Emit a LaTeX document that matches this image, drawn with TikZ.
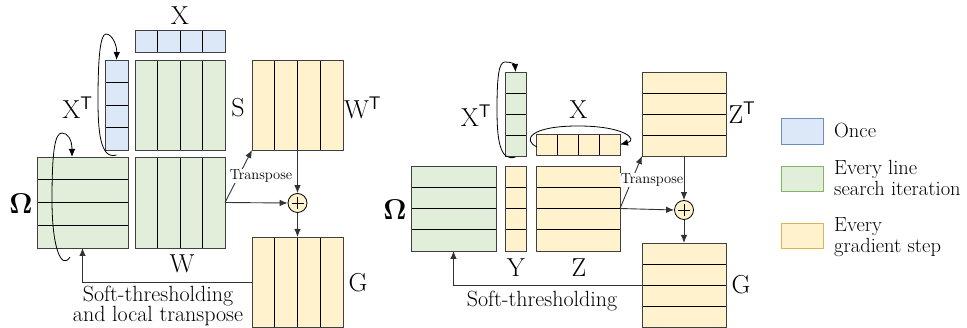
\documentclass[tikz,border=0pt]{standalone}
\usepackage[no-math]{fontspec}
\usepackage{graphicx}
\usetikzlibrary{arrows.meta,calc}
\definecolor{bfill}{HTML}{DCE8F8}
\definecolor{bdraw}{HTML}{6C8EBF}
\definecolor{gfill}{HTML}{E1EFDA}
\definecolor{gdraw}{HTML}{82B366}
\definecolor{yfill}{HTML}{FFF2CC}
\definecolor{ydraw}{HTML}{D6B656}
\definecolor{mborder}{HTML}{404040}
\definecolor{connc}{HTML}{333333}
\newcommand{\supT}{\textsuperscript{\sffamily T}}
\newcommand{\bigOm}{\scalebox{1.15}{$\mathbf{\Omega}$}}
\tikzset{
  mat/.style={draw=mborder, line width=0.9pt, inner sep=0pt, outer sep=0pt},
  bmat/.style={mat, fill=bfill},
  gmat/.style={mat, fill=gfill},
  ymat/.style={mat, fill=yfill},
  cols/.style={path picture={\foreach \t in {0.25,0.5,0.75}{\draw[black,line width=0.8pt] ($(path picture bounding box.north west)!\t!(path picture bounding box.north east)$) -- ($(path picture bounding box.south west)!\t!(path picture bounding box.south east)$);}}},
  rows/.style={path picture={\foreach \t in {0.25,0.5,0.75}{\draw[black,line width=0.8pt] ($(path picture bounding box.north west)!\t!(path picture bounding box.south west)$) -- ($(path picture bounding box.north east)!\t!(path picture bounding box.south east)$);}}},
  lab/.style={font=\fontsize{26}{28}\selectfont, inner sep=0pt},
  tlab/.style={font=\fontsize{14.5}{15}\selectfont, fill=white, inner sep=1pt},
  slab/.style={font=\fontsize{22}{20}\selectfont, align=center, inner sep=0pt},
  leglab/.style={font=\fontsize{20.5}{21}\selectfont, align=left, anchor=west, inner sep=0pt},
  arr/.style={draw=connc, line width=0.9pt, -{Latex[length=8pt,width=6.5pt]}},
  loop/.style={draw=black, line width=0.8pt, -{Latex[length=8pt,width=6.5pt]}},
  plus/.style={circle, draw=black, fill=yfill, minimum size=19pt, inner sep=0pt, line width=0.8pt,
    path picture={\draw[line width=0.7pt] ($(path picture bounding box.center)+(-6,0)$) -- ($(path picture bounding box.center)+(6,0)$);
                  \draw[line width=0.7pt] ($(path picture bounding box.center)+(0,-6)$) -- ($(path picture bounding box.center)+(0,6)$);}},
  legbox/.style={line width=0.9pt, minimum width=42pt, minimum height=25pt, inner sep=0pt}
}
\begin{document}
\begin{tikzpicture}[x=1pt,y=-1pt]
\useasboundingbox (0,0) rectangle (967,328);

% ---------- left diagram ----------
\node[bmat,cols,minimum width=90pt,minimum height=22pt] (X) at (180,41) {};
\node[bmat,rows,minimum width=23pt,minimum height=90pt] (XT) at (116.5,105) {};
\node[gmat,cols,minimum width=90pt,minimum height=90pt] (S) at (180,105) {};
\node[ymat,cols,minimum width=91pt,minimum height=90pt] (WT) at (297.5,105) {};
\node[gmat,rows,minimum width=91pt,minimum height=91pt] (Om) at (82.5,202.5) {};
\node[gmat,cols,minimum width=90pt,minimum height=91pt] (W) at (180,202.5) {};
\node[ymat,cols,minimum width=91pt,minimum height=90.5pt] (G) at (297.5,282.25) {};
\node[plus] (P) at (297.5,203) {};

\node[lab] (lX) at (180,16) {X};
\node[lab] (lXT) at (77.5,108) {X\supT};
\node[lab] (lS) at (238,108) {S};
\node[lab] (lWT) at (362.5,108) {W\supT};
\node[lab] (lOm) at (21,204) {\bigOm};
\node[lab] (lW) at (182,264) {W};
\node[lab] (lG) at (358,283) {G};

\draw[arr] (WT.south) -- (P.north);
\draw[arr] (W.east) -- (P.west);
\draw[arr] (P.south) -- (G.north);
\draw[arr] (W.east) -- (WT.south west);
\node[tlab] (t1) at (261,176) {Transpose};
\draw[arr] (G.west) -| (Om.south);
\node[slab] (s1) at (158,306) {Soft-thresholding\\and local transpose};

\draw[loop] ([yshift=-5pt]XT.south) .. controls (100,160) and (98,130) .. (98,100)
  .. controls (98,60) and (100,34) .. (106,34) .. controls (112,34) and (117,45) .. (XT.north);
\draw[loop] (70,257) .. controls (62,270) and (52,250) .. (52,200)
  .. controls (52,150) and (55,133) .. (62,133) .. controls (68,133) and (72,140) .. (72,157);

% ---------- right diagram ----------
\node[gmat,rows,minimum width=21pt,minimum height=84pt] (XT2) at (515.5,114) {};
\node[ymat,cols,minimum width=84pt,minimum height=21pt] (X2) at (578,144.5) {};
\node[ymat,rows,minimum width=84pt,minimum height=84pt] (ZT) at (684,114) {};
\node[gmat,rows,minimum width=85pt,minimum height=85pt] (Om2) at (453.5,208.5) {};
\node[ymat,rows,minimum width=21pt,minimum height=85pt] (Y) at (515.5,208.5) {};
\node[ymat,rows,minimum width=84pt,minimum height=85pt] (Z) at (578,208.5) {};
\node[ymat,rows,minimum width=84pt,minimum height=84pt] (G2) at (684,285) {};
\node[plus] (P2) at (684,210) {};

\node[lab] (lXT2) at (476,116) {X\supT};
\node[lab] (lX2) at (578.5,110) {X};
\node[lab] (lZT) at (742,113) {Z\supT};
\node[lab] (lOm2) at (395,210) {\bigOm};
\node[lab] (lY) at (516,268) {Y};
\node[lab] (lZ) at (579,268) {Z};
\node[lab] (lG2) at (741,285) {G};

\draw[arr] (ZT.south) -- (P2.north);
\draw[arr] (Z.east) -- (P2.west);
\draw[arr] (P2.south) -- (G2.north);
\draw[arr] (Z.east) -- (ZT.south west);
\node[tlab] (t2) at (652,180) {Transpose};
\draw[arr] (G2.west) -| (Om2.south);
\node[slab] (s2) at (542,301) {Soft-thresholding};

\draw[loop] ([yshift=-1pt]XT2.south) .. controls (500,162) and (497,140) .. (497,110)
  .. controls (497,75) and (499,62) .. (505,62) .. controls (511,62) and (515,64) .. (XT2.north);
\draw[loop] (537,147) .. controls (522,140) and (530,126) .. (578,126)
  .. controls (626,126) and (638,140) .. (X2.east);

% ---------- legend ----------
\node[legbox,draw=bdraw,fill=bfill,minimum height=26pt] (L1) at (802,131) {};
\node[legbox,draw=gdraw,fill=gfill] (L2) at (802,178.5) {};
\node[legbox,draw=ydraw,fill=yfill] (L3) at (802,235.5) {};
\node[leglab] (T1) at (834,131) {Once};
\node[leglab] (T2) at (834,178) {Every line\\search iteration};
\node[leglab] (T3) at (834,237) {Every\\gradient step};
\end{tikzpicture}
\end{document}
